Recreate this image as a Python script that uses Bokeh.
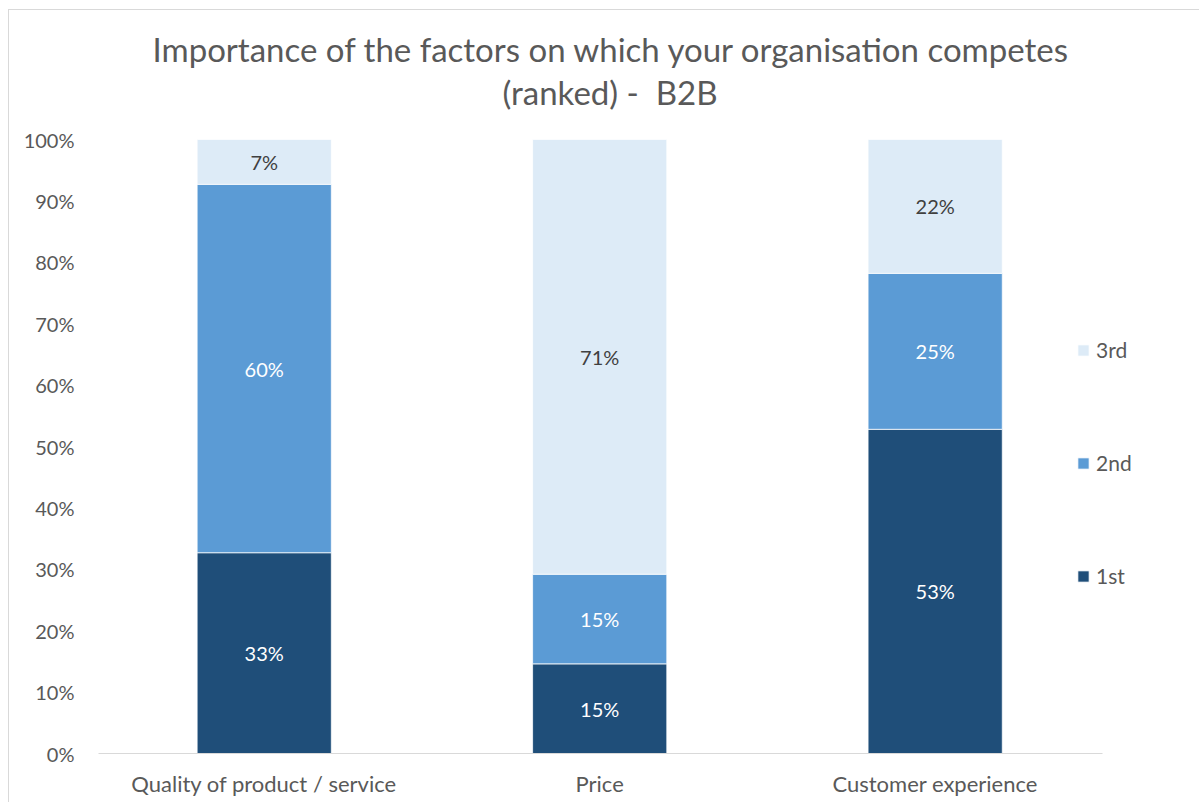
from bokeh.plotting import figure
from bokeh.models import ColumnDataSource, Legend, LegendItem, Title, FixedTicker, Range1d
from bokeh.core.properties import value
from bokeh.embed import file_html
from bokeh.resources import INLINE

categories = ["Quality of product / service", "Price", "Customer experience"]
ranks = ["1st", "2nd", "3rd"]
first = [32.7, 14.6, 52.8]
second = [60.0, 14.6, 25.4]
third = [7.3, 70.8, 21.8]
yticks = [0, 10, 20, 30, 40, 50, 60, 70, 80, 90, 100]
title_lines = ["Importance of the factors on which your organisation competes",
               "(ranked) - \u00a0B2B"]

colors = ["#1F4E79", "#5B9BD5", "#DDEBF7"]
label_colors = ["#FFFFFF", "#FFFFFF", "#404040"]
FONT = "Lato"
TXT = "#595959"

series = [first, second, third]
xpos = [i + 0.5 for i in range(len(categories))]
data = {"x": xpos}
for r, s in zip(ranks, series):
    data[r] = s
src = ColumnDataSource(data)

p = figure(x_range=Range1d(0.006, 3.276), y_range=Range1d(0, 100), width=1191, height=793,
           output_backend="svg", toolbar_location=None,
           min_border_left=89, min_border_right=5, min_border_top=129, min_border_bottom=50)
p.outline_line_color = None
p.background_fill_color = "white"
p.border_fill_color = "white"
p.styles = {"margin-left": "8px", "margin-top": "9px",
            "border-left": "1px solid #d9d9d9", "border-top": "1px solid #d9d9d9"}

renderers = p.vbar_stack(ranks, x="x", width=0.4, source=src, color=colors,
                         line_color="white", line_width=0.75)

# data labels
lx, ly, lt, lc = [], [], [], []
for i, c in enumerate(categories):
    base = 0
    for j, s in enumerate(series):
        v = s[i]
        lx.append(xpos[i])
        ly.append(base + v / 2)
        lt.append(f"{int(v + 0.5)}%")
        lc.append(label_colors[j])
        base += v
lsrc = ColumnDataSource(dict(x=lx, y=ly, t=lt, c=lc))
p.text(x="x", y="y", text="t", text_color="c", source=lsrc, text_align="center",
       text_baseline="middle", text_font=value(FONT), text_font_size="20px")

# axes
p.yaxis.ticker = FixedTicker(ticks=yticks)
p.yaxis.major_label_overrides = {t: f"{t}%" for t in yticks}
p.yaxis.axis_line_color = None
p.yaxis.major_tick_line_color = None
p.yaxis.minor_tick_line_color = None
p.yaxis.major_label_standoff = 18
p.yaxis.major_label_text_font = FONT
p.yaxis.major_label_text_font_size = "20px"
p.yaxis.major_label_text_color = TXT

p.xaxis.ticker = FixedTicker(ticks=xpos)
p.xaxis.major_label_overrides = {x: c for x, c in zip(xpos, categories)}
p.xaxis.bounds = (0, len(categories))
p.xaxis.axis_line_color = "#D9D9D9"
p.xaxis.axis_line_width = 1
p.xaxis.major_tick_line_color = None
p.xaxis.minor_tick_line_color = None
p.xaxis.major_label_standoff = 10
p.xaxis.major_label_text_font = FONT
p.xaxis.major_label_text_font_size = "22px"
p.xaxis.major_label_text_color = TXT

p.xgrid.grid_line_color = None
p.ygrid.grid_line_color = None

# title (two lines, each placed to be centred on the chart area)
spacer = Title(text=" ", text_font_size="1px", standoff=25)
t2 = Title(text=title_lines[1], align="left", offset=404, text_font=FONT, text_font_size="33px",
           text_font_style="normal", text_color=TXT, standoff=0)
t1 = Title(text=title_lines[0], align="left", offset=54, text_font=FONT, text_font_size="33px",
           text_font_style="normal", text_color=TXT, standoff=2)
p.add_layout(spacer, "above")
p.add_layout(t2, "above")
p.add_layout(t1, "above")

legend = Legend(items=[LegendItem(label=ranks[k], renderers=[renderers[k]]) for k in [2, 1, 0]],
                location=(978, 165), padding=0, margin=0, spacing=88,
                glyph_width=14, glyph_height=14, label_height=20,
                label_text_font=FONT, label_text_font_size="21px", label_text_color=TXT,
                label_standoff=6, border_line_color=None, background_fill_alpha=0)
p.add_layout(legend, "center")

open("out.html", "w").write(file_html(p, INLINE))
